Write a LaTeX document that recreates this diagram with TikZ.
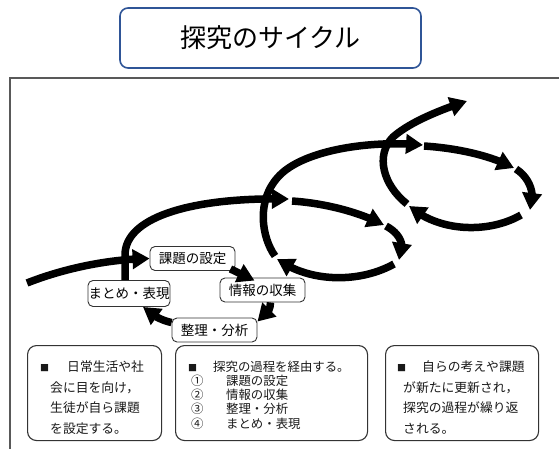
\documentclass[tikz,border=0pt]{standalone}
\usepackage{fontspec}
\newfontfamily\jp{Noto Sans CJK JP}
\usetikzlibrary{arrows.meta,bending}
\definecolor{titleblue}{RGB}{47,85,151}
\newcommand{\sqmark}{{\fontsize{9}{9}\selectfont ■}}
\begin{document}
\begin{tikzpicture}[x=1pt,y=-1pt,
  arr/.style={line width=7.5pt,-{Triangle[length=17pt,width=19pt,flex]}},
  lbl/.style={draw=black!80, line width=0.9pt, rounded corners=5pt, fill=white,
    font=\jp\fontsize{13.5}{15}\selectfont, minimum width=85pt, minimum height=24pt, inner sep=0pt},
  infobox/.style={draw=black!80, line width=1.1pt, rounded corners=9pt, anchor=north west,
    minimum height=95pt, inner sep=0pt},
  infotext/.style={anchor=west, align=left, inner sep=0pt, text=black!90},
]
\useasboundingbox (0,0) rectangle (559,449);
% frame
\draw[black!65, line width=2pt] (10,449) -- (10,78) -- (559,78);
% title
\node[draw=titleblue, line width=1.6pt, rounded corners=8pt, minimum width=301pt,
  minimum height=60pt, font=\jp\fontsize{26}{28}\selectfont] (title) at (270.5,38) {探究のサイクル};

% cycle 1 nodes
\node[lbl] (k1) at (192.5,258.5) {課題の設定};
\node[lbl] (j1) at (262.5,290) {情報の収集};
\node[lbl] (r1) at (214.5,330) {整理・分析};
\node[lbl, minimum width=82pt, minimum height=26pt] (m1) at (129,293.5) {まとめ・表現};

% coordinates
\coordinate (s0) at (27,283);
\coordinate (p2) at (289,199);
\coordinate (a2s) at (292,201);  \coordinate (a2e) at (384,225);
\coordinate (b2s) at (386,226);  \coordinate (b2e) at (399,260);
\coordinate (c2s) at (394,264);  \coordinate (c2e) at (277,259);
\coordinate (d2s) at (275,256);  \coordinate (d2m) at (280,175); \coordinate (p3) at (423,145);
\coordinate (a3s) at (424,146);  \coordinate (a3e) at (514,168);
\coordinate (b3s) at (516,169);  \coordinate (b3e) at (530,210);
\coordinate (c3s) at (521,215);  \coordinate (c3e) at (409,206);
\coordinate (d3s) at (407,204);  \coordinate (d3m) at (393,137); \coordinate (endp) at (467,101);

% cycle 1 connectors
\draw[arr] (s0) .. controls (65,268) and (110,259) .. (k1.west);
\draw[arr] ([xshift=-5pt,yshift=2pt]k1.south east) -- ([xshift=-8pt,yshift=-3pt]j1.north);
\draw[arr] ([xshift=8pt]j1.south) .. controls (270.5,311) and (265,318) .. ([yshift=-4pt]r1.north east);
\draw[arr] ([yshift=-5pt]r1.north west) .. controls (160,320) and (150,314) .. ([xshift=14pt]m1.south);
\draw[arr] ([xshift=-4pt]m1.north) -- ++(0,-25) .. controls (125,216) and (195,197) .. (p2);

% cycle 2
\draw[arr] (a2s) .. controls (322,203) and (357,211) .. (a2e);
\draw[arr] (b2s) .. controls (401,234) and (406,247) .. (b2e);
\draw[arr] (c2s) .. controls (360,283) and (310,283) .. (c2e);
\draw[arr] (d2s) .. controls (262,238) and (255,200) .. (d2m) .. controls (305,150) and (370,140) .. (p3);

% cycle 3
\draw[arr] (a3s) .. controls (455,148) and (490,155) .. (a3e);
\draw[arr] (b3s) .. controls (530,178) and (536,195) .. (b3e);
\draw[arr] (c3s) .. controls (490,233) and (440,233) .. (c3e);
\draw[arr] (d3s) .. controls (383,185) and (375,155) .. (d3m) .. controls (410,122) and (440,110) .. (endp);

% info boxes
\node[infobox, minimum width=134pt] (b1) at (27,345) {};
\node[infobox, minimum width=192pt] (b2) at (175,345) {};
\node[infobox, minimum width=153pt] (b3) at (385,345) {};

\node[infotext, font=\jp\fontsize{12.8}{20.5}\selectfont] (t1) at (50,397.5)
  {\hspace*{-10pt}\makebox[27pt][l]{\sqmark}日常生活や社\\会に目を向け，\\生徒が自ら課題\\を設定する。};
\node[infotext, font=\jp\fontsize{12.4}{14.2}\selectfont] (t2) at (188,395)
  {\makebox[25pt][l]{\sqmark}探究の過程を経由する。\\
   \hspace*{3pt}\makebox[35pt][l]{①}課題の設定\\
   \hspace*{3pt}\makebox[35pt][l]{②}情報の収集\\
   \hspace*{3pt}\makebox[35pt][l]{③}整理・分析\\
   \hspace*{3pt}\makebox[35pt][l]{④}まとめ・表現};
\node[infotext, font=\jp\fontsize{12.8}{20.5}\selectfont] (t3) at (403,397.5)
  {\hspace*{-6pt}\makebox[25pt][l]{\sqmark}自らの考えや課題\\が新たに更新され，\\探究の過程が繰り返\\される。};
\end{tikzpicture}
\end{document}
